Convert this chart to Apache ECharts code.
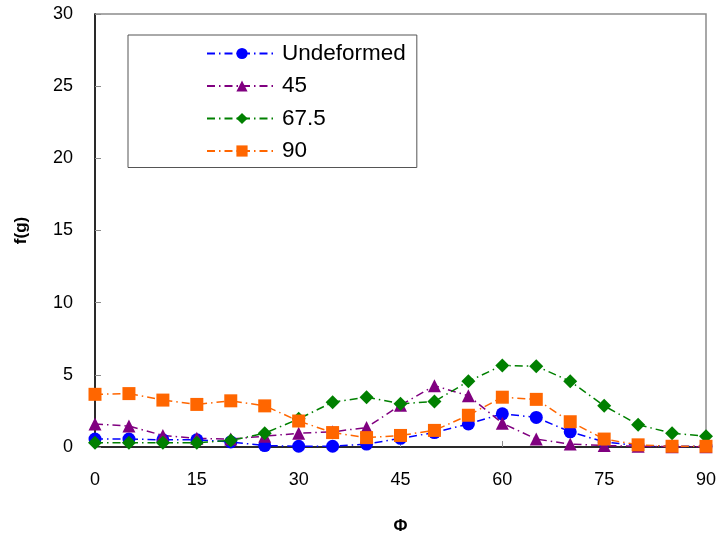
<!DOCTYPE html>
<html>
<head>
<meta charset="utf-8">
<script src="https://cdn.jsdelivr.net/npm/echarts@6/dist/echarts.min.js"></script>
<style>
  html, body { margin: 0; padding: 0; background: #fff; }
  #chart { width: 719px; height: 541px; }
</style>
</head>
<body>
<div id="chart"></div>
<script>
// Φ values along x
const phi = [0, 5, 10, 15, 20, 25, 30, 35, 40, 45, 50, 55, 60, 65, 70, 75, 80, 85, 90];

// f(g) per series
const undeformed = [0.55, 0.55, 0.5, 0.5, 0.35, 0.1, 0.05, 0.05, 0.2, 0.6, 1.0, 1.6, 2.3, 2.05, 1.05, 0.35, 0.1, 0.05, 0.05];
const deg45 = [1.6, 1.45, 0.8, 0.6, 0.55, 0.75, 0.95, 1.05, 1.35, 2.9, 4.25, 3.55, 1.65, 0.55, 0.2, 0.1, 0.05, 0.02, 0.02];
const deg675 = [0.3, 0.3, 0.3, 0.3, 0.45, 0.95, 1.95, 3.1, 3.45, 3.0, 3.15, 4.55, 5.65, 5.6, 4.55, 2.85, 1.55, 0.95, 0.75];
const deg90 = [3.65, 3.7, 3.25, 2.95, 3.2, 2.85, 1.8, 1.0, 0.65, 0.8, 1.15, 2.2, 3.45, 3.3, 1.75, 0.55, 0.15, 0.05, 0.05];

const chart = echarts.init(document.getElementById('chart'));

// pair x with y
const pts = ys => phi.map((x, i) => [x, ys[i]]);

const mkSeries = (name, ys, color, symbol, size) => ({
  name: name,
  type: 'line',
  data: pts(ys),
  symbol: symbol,
  symbolSize: size,
  itemStyle: { color: color },
  lineStyle: { color: color, width: 1.5, type: [8, 4, 1.5, 4] },
  animation: false
});

const option = {
  backgroundColor: '#fff',
  grid: {
    left: 95, right: 13, top: 14, bottom: 94,
    containLabel: false, outerBoundsMode: 'none',
    show: true, borderColor: '#8c8c8c', borderWidth: 1.5
  },
  legend: {
    left: 128, top: 35,
    orient: 'vertical',
    padding: [7, 11, 5, 78],
    borderColor: '#555', borderWidth: 1,
    itemWidth: 70, itemHeight: 14, itemGap: 9.5,
    textStyle: { fontFamily: 'Liberation Sans', fontSize: 22.5, color: '#000' },
    data: ['Undeformed', '45', '67.5', '90']
  },
  xAxis: {
    type: 'value', min: 0, max: 90, interval: 15,
    name: 'Φ', nameLocation: 'middle', nameGap: 71,
    nameTextStyle: { fontFamily: 'Liberation Sans', fontSize: 17, fontWeight: 'bold', color: '#000' },
    axisLine: { show: true, lineStyle: { color: '#000', width: 1.5 } },
    axisTick: { show: true, inside: true, length: 6, lineStyle: { color: '#8c8c8c' } },
    axisLabel: { margin: 24, fontFamily: 'Liberation Sans', fontSize: 18, color: '#000' },
    splitLine: { show: false }
  },
  yAxis: {
    type: 'value', min: 0, max: 30, interval: 5,
    name: 'f(g)', nameLocation: 'middle', nameGap: 65, nameRotate: 90,
    nameTextStyle: { fontFamily: 'Liberation Sans', fontSize: 17, fontWeight: 'bold', color: '#000' },
    axisLine: { show: true, lineStyle: { color: '#000', width: 1.5 } },
    axisTick: { show: true, inside: true, length: 6, lineStyle: { color: '#8c8c8c' } },
    axisLabel: { margin: 22, fontFamily: 'Liberation Sans', fontSize: 18, color: '#000' },
    splitLine: { show: false }
  },
  series: [
    mkSeries('Undeformed', undeformed, '#0000ff', 'circle', 13),
    mkSeries('45', deg45, '#800080', 'triangle', 13),
    mkSeries('67.5', deg675, '#008000', 'diamond', 14),
    mkSeries('90', deg90, '#ff6600', 'rect', 13)
  ]
};

chart.setOption(option);
</script>
</body>
</html>
